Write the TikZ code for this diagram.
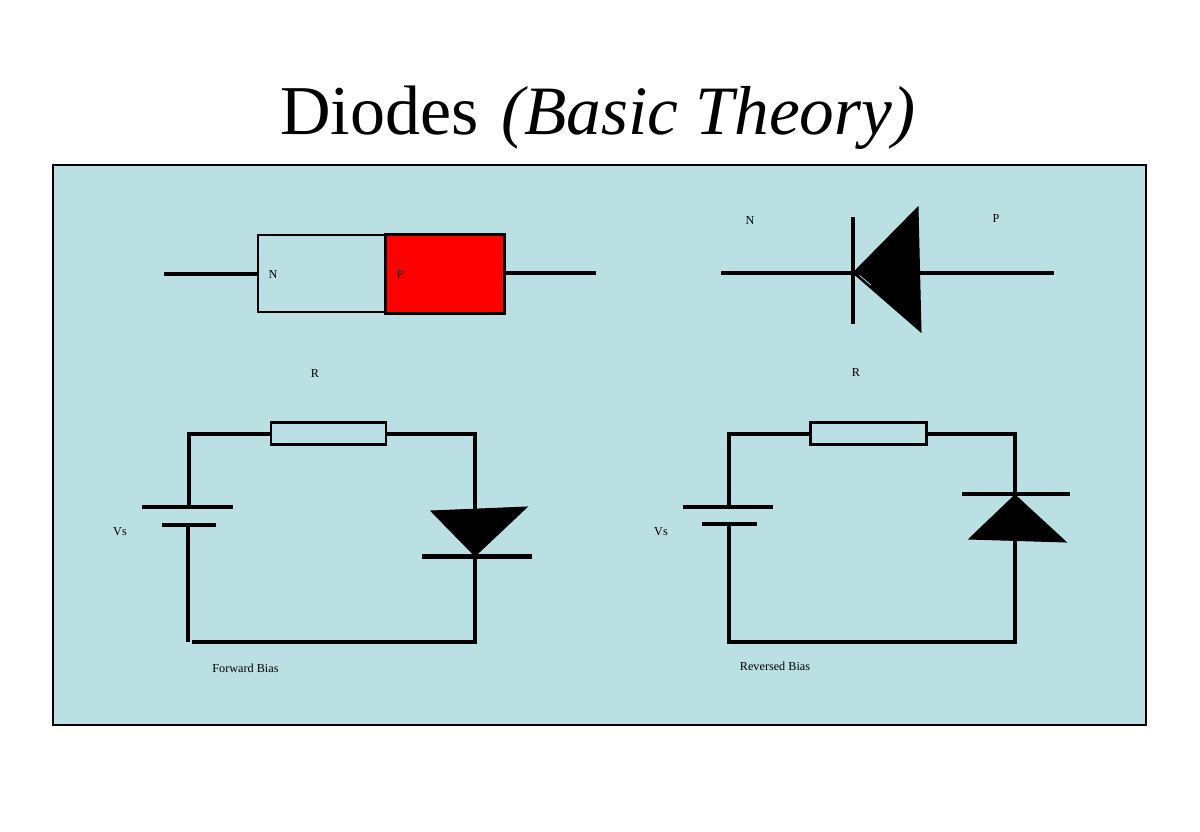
\documentclass[tikz,border=0pt]{standalone}
\usepackage{fontspec}
\setmainfont{Liberation Serif}
\definecolor{panelblue}{HTML}{BBE0E3}
\definecolor{diodered}{HTML}{FF0000}
\tikzset{
  wire/.style={draw=black,line width=4pt},
  heavywire/.style={draw=black,line width=4.2pt},
  platebar/.style={draw=black,line width=4.2pt},
  outline/.style={draw=black,line width=2.2pt,rectangle,inner sep=0pt,outer sep=0pt},
  solid diode/.style={draw=black,fill=black,line width=1pt,line join=miter},
  smalltext/.style={font=\fontsize{12.2}{14}\selectfont,inner sep=0pt,text=black},
  titletext/.style={font=\fontsize{70}{80}\selectfont,inner sep=0pt,anchor=base west}
}
\begin{document}
\begin{tikzpicture}[x=1pt,y=-1pt]
\useasboundingbox (0,0) rectangle (1200,831);
\fill[white] (0,0) rectangle (1200,831);
\node[titletext] (title) at (280,134) {Diodes\hspace{23pt}{\fontsize{69.3}{80}\selectfont\textit{(Basic Theory)}}};
\node[outline,fill=panelblue,minimum width=1093pt,minimum height=560pt] (panel) at (599.5,445) {};

% physical diode
\node[outline,minimum width=128pt,minimum height=77pt] (nblock) at (322,273.5) {};
\node[outline,fill=diodered,line width=2.4pt,minimum width=119pt,minimum height=79pt] (pblock) at (445,274) {};
\coordinate (leadL) at (164,274);
\coordinate (leadLe) at (258,274);
\coordinate (leadR) at (596,273);
\coordinate (leadRe) at (504.5,273);
\draw[wire] (leadL) -- (leadLe);
\draw[wire] (leadRe) -- (leadR);
\node[smalltext] (nlabel) at (273,274) {N};
\node[smalltext] (plabel) at (400,274) {P};

% diode symbol
\coordinate (symL) at (721,273);
\coordinate (symR) at (1054,273);
\coordinate (symA) at (853,273);
\coordinate (symT) at (918,207);
\coordinate (symB) at (921,332);
\coordinate (symBarT) at (853,217);
\coordinate (symBarB) at (853,324);
\coordinate (streakA) at (859.5,275.5);
\coordinate (streakB) at (871,285);
\draw[wire] (symL) -- (symR);
\draw[heavywire] (symBarT) -- (symBarB);
\filldraw[solid diode] (symA) -- (symT) -- (symB) -- cycle;
\draw[panelblue,line width=0.7pt] (streakA) -- (streakB);
\node[smalltext] (nsym) at (750,220) {N};
\node[smalltext] (psym) at (996,218) {P};

% forward bias circuit
\node[outline,minimum width=115pt,minimum height=22pt] (res1) at (328.5,433.5) {};
\coordinate (f1) at (189,433.5);
\coordinate (f2) at (475,433.5);
\coordinate (f3) at (475,644);
\coordinate (f4) at (188,642);
\coordinate (f5) at (192,642);
\coordinate (fb1a) at (142,507);
\coordinate (fb1b) at (233,507);
\coordinate (fb2a) at (162,525);
\coordinate (fb2b) at (216,525);
\coordinate (fb1m) at (189,507);
\coordinate (fb2m) at (188,525);
\coordinate (fdA) at (431,511);
\coordinate (fdB) at (527,507);
\coordinate (fdC) at (475,556);
\coordinate (fdBa) at (422,556.5);
\coordinate (fdBb) at (532,556.5);
\draw[wire,line join=miter] (res1.west) -- (f1) -- (fb1m);
\draw[wire] (fb2m) -- (f4);
\draw[wire] (f5) -- (f3 |- f5);
\draw[wire] (res1.east) -- (f2) -- (fdC);
\draw[wire] (fdC) -- (f3);
\draw[platebar] (fb1a) -- (fb1b);
\draw[platebar] (fb2a) -- (fb2b);
\filldraw[solid diode] (fdA) -- (fdB) -- (fdC) -- cycle;
\draw[platebar] (fdBa) -- (fdBb);
\node[smalltext] (rf) at (315,373) {R};
\node[smalltext] (vf) at (120,532) {Vs};
\node[smalltext] (fwd) at (245.5,668) {Forward Bias};

% reversed bias circuit
\node[outline,minimum width=116pt,minimum height=22pt] (res2) at (868.5,433.5) {};
\coordinate (r1) at (729,433.5);
\coordinate (r2) at (1015,433.5);
\coordinate (r3) at (1015,642);
\coordinate (r4) at (729,642);
\coordinate (rb1a) at (683,507);
\coordinate (rb1b) at (773,507);
\coordinate (rb2a) at (702,524);
\coordinate (rb2b) at (757,524);
\coordinate (rb1m) at (729,507);
\coordinate (rb2m) at (729,524);
\coordinate (rdA) at (1015,495);
\coordinate (rdB) at (969,539);
\coordinate (rdC) at (1066,542);
\coordinate (rdM) at (1015,540);
\coordinate (rdBa) at (962,494);
\coordinate (rdBb) at (1070,494);
\draw[wire,line join=miter] (res2.west) -- (r1) -- (rb1m);
\draw[wire,line join=miter] (rb2m) -- (r4) -- (r3) -- (rdM);
\draw[wire] (res2.east) -- (r2) -- (rdA);
\draw[platebar] (rb1a) -- (rb1b);
\draw[platebar] (rb2a) -- (rb2b);
\filldraw[solid diode] (rdA) -- (rdB) -- (rdC) -- cycle;
\draw[platebar] (rdBa) -- (rdBb);
\node[smalltext] (rr) at (856,372.5) {R};
\node[smalltext] (vr) at (661,532) {Vs};
\node[smalltext] (rev) at (775,666) {Reversed Bias};
\end{tikzpicture}
\end{document}
